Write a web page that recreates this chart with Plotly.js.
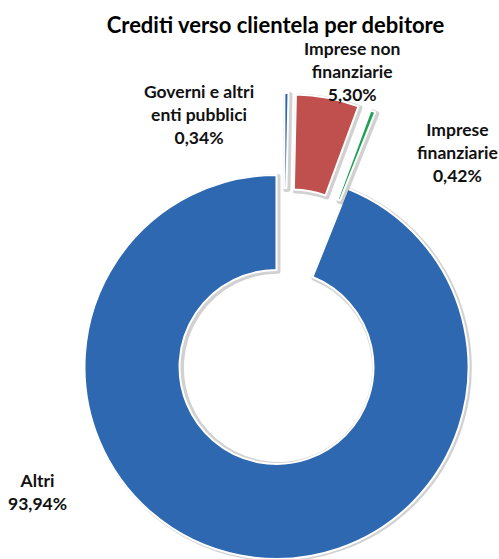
<!DOCTYPE html>
<html>
<head>
<meta charset="utf-8">
<script src="https://cdn.plot.ly/plotly-3.0.1.min.js"></script>
<style>
  html, body { margin: 0; padding: 0; background: #fff; overflow: hidden; }
  #chart { width: 499px; height: 559px; }
</style>
</head>
<body>
<div id="chart"></div>
<script>
// ---- data ----
const categories = ['Governi e altri enti pubblici', 'Imprese non finanziarie', 'Imprese finanziarie', 'Altri'];
const shares = [0.34, 5.30, 0.42, 93.94];
const labelLines = [['Governi e altri', 'enti pubblici'], ['Imprese non', 'finanziarie'], ['Imprese', 'finanziarie'], ['Altri']];
const exploded = [true, true, true, false];
const chartTitle = 'Crediti verso clientela per debitore';

// ---- styles / layout ----
const colors = ['#2E62AC', '#C0504D', '#1FA352', '#2E68B1'];
const W = 499, H = 559;
const CX = 276.5, CY = 367, R = 192, HOLE = 0.505, PULL = 82;
const extraShiftX = [7, 0, -2, 0];
const labelPos = [[199, 114], [351.5, 72], [457, 152], [37.5, 492]];
const FONT = 'Lato, "Open Sans", sans-serif';
const T = 'rgba(0,0,0,0)';

function fmt(v) { return v.toFixed(2).replace('.', ',') + '%'; }
function domainAt(cx, cy) {
  return { x: [(cx - R) / W, (cx + R) / W], y: [(H - cy - R) / H, (H - cy + R) / H] };
}

const total = shares.reduce((a, b) => a + b, 0);
let cum = 0;
const mids = shares.map(v => { const m = (cum + v / 2) / total * 2 * Math.PI; cum += v; return m; });

function pieTrace(idxVisible, cx, cy, lineCol, lineW) {
  return {
    type: 'pie',
    labels: categories,
    values: shares,
    sort: false,
    direction: 'clockwise',
    rotation: 0,
    hole: HOLE,
    textinfo: 'none',
    hoverinfo: 'skip',
    showlegend: false,
    domain: domainAt(cx, cy),
    marker: {
      colors: categories.map((c, i) => idxVisible.includes(i) ? (lineCol ? T : colors[i]) : T),
      line: { color: categories.map((c, i) => idxVisible.includes(i) ? (lineCol || '#ffffff') : T), width: lineW }
    }
  };
}

const traces = [];
const mainIdx = categories.map((c, i) => i).filter(i => !exploded[i]);
// soft shadow ring
traces.push(pieTrace(mainIdx, CX + 1.5, CY + 1.5, 'rgba(0,0,0,0.18)', 5));
traces.push(pieTrace(mainIdx, CX, CY, null, 2));
categories.forEach((c, i) => {
  if (!exploded[i]) return;
  const cx = CX + PULL * Math.sin(mids[i]) + extraShiftX[i];
  const cy = CY - PULL * Math.cos(mids[i]);
  traces.push(pieTrace([i], cx + 1.5, cy + 1.5, 'rgba(0,0,0,0.18)', 5));
  traces.push(pieTrace([i], cx, cy, null, 2));
});

const annotations = categories.map((c, i) => ({
  xref: 'paper', yref: 'paper',
  x: labelPos[i][0] / W, y: 1 - labelPos[i][1] / H,
  xanchor: 'center', yanchor: 'middle',
  text: labelLines[i].concat([fmt(shares[i])]).join('<br>'),
  showarrow: false,
  align: 'center',
  font: { family: FONT, size: 17.5, color: '#111111', weight: 'bold' }
}));

const layout = {
  width: W, height: H,
  margin: { l: 0, r: 0, t: 0, b: 0 },
  paper_bgcolor: '#ffffff',
  title: {
    text: '<b>' + chartTitle + '</b>',
    x: 275.5 / W, xanchor: 'center',
    y: 1 - 25 / H, yanchor: 'middle',
    font: { family: FONT, size: 22, color: '#000000' }
  },
  annotations: annotations
};

Plotly.newPlot('chart', traces, layout, { displayModeBar: false, staticPlot: true });
</script>
</body>
</html>
